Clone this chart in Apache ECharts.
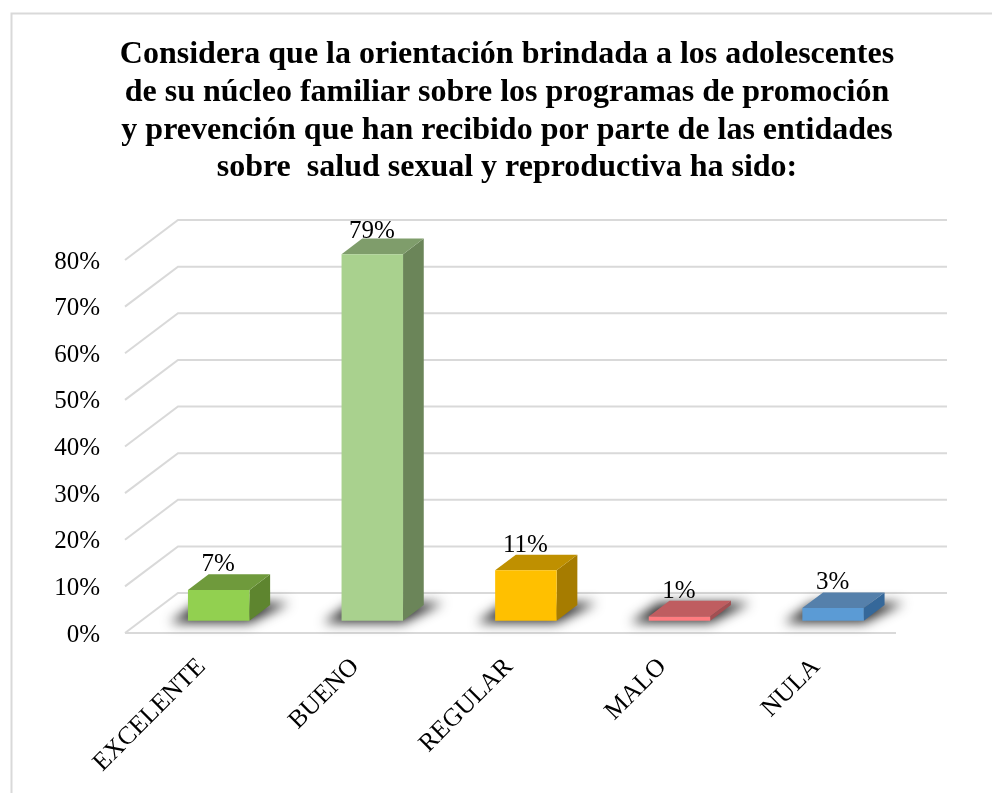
<!DOCTYPE html>
<html><head><meta charset="utf-8">
<style>html,body{margin:0;padding:0;background:#fff}#c{width:992px;height:793px}</style>
<script src="https://cdn.jsdelivr.net/npm/echarts@6/dist/echarts.min.js"></script>
</head><body><div id="c"></div>
<script>
const titleLines = [
  'Considera que la orientación brindada a los adolescentes',
  'de su núcleo familiar sobre los programas de promoción',
  'y prevención que han recibido por parte de las entidades',
  'sobre  salud sexual y reproductiva ha sido:'
];
const categories = ['EXCELENTE', 'BUENO', 'REGULAR', 'MALO', 'NULA'];
const values = [6.6, 78.6, 10.8, 0.9, 2.7];
const gridTicks = [0, 10, 20, 30, 40, 50, 60, 70, 80];
const frontColors = ['#92D050', '#A9D18E', '#FFC000', '#FF7C80', '#5B9BD5'];
const topColors = ['#6F9A3C', '#7F9D6B', '#BF9000', '#BF5D60', '#5580AB'];
const sideColors = ['#5E852F', '#6B8559', '#A67C00', '#A34F52', '#35689A'];

const FONT = '"Liberation Serif","Times New Roman",serif';
const GRID_COLOR = '#D9D9D9';
const chart = echarts.init(document.getElementById('c'), null, {renderer: 'canvas'});

function renderGrid(params, api) {
  const v = api.value(0);
  const cs = params.coordSys;
  const y = api.coord([0, v])[1];
  const x0 = cs.x, x1 = x0 + 53, x2 = x0 + cs.width + 54, yb = y - 40;
  const children = [{
    type: 'polyline',
    shape: {points: [[x0, y], [x1, yb], [x2, yb]]},
    style: {fill: null, stroke: GRID_COLOR, lineWidth: 2}
  }];
  if (v === 0) {
    children.push({
      type: 'line',
      shape: {x1: x0, y1: y, x2: x0 + cs.width + 3, y2: y},
      style: {stroke: GRID_COLOR, lineWidth: 2}
    });
  }
  return {type: 'group', children};
}

function renderBar(params, api) {
  const i = api.value(0), v = api.value(1);
  const top = api.coord([i, v]), base = api.coord([i, 0]);
  const w = 61.5, dx = 20.7, dy = 15.7;
  const cx = top[0] + 16.9, off = 12.3;
  const l = cx - w / 2, r = cx + w / 2;
  const t = top[1] - off, b = base[1] - off;
  const c = params.dataIndex;
  const far = 3000;
  const shadow = {
    type: 'polygon',
    shape: {points: [[l - 18 - far, b + 2], [r - far, b + 2], [r + 40 - far, b - 18], [l + 10 - far, b - 18]]},
    style: {fill: '#333', shadowBlur: 12, shadowOffsetX: far, shadowColor: 'rgba(45,45,45,1)'}
  };
  return {
    type: 'group',
    children: [
      shadow,
      {type: 'polygon',
       shape: {points: [[r, t], [r + dx, t - dy], [r + dx, b - dy], [r, b]]},
       style: {fill: sideColors[c]}},
      {type: 'polygon',
       shape: {points: [[l, t], [l + dx, t - dy], [r + dx, t - dy], [r, t]]},
       style: {fill: topColors[c]}},
      {type: 'rect',
       shape: {x: l, y: t, width: w, height: b - t},
       style: {fill: frontColors[c]}},
      {type: 'text',
       style: {x: cx - 0.5, y: t - 13 + v * 0.04, text: Math.round(v) + '%', fill: '#000',
                font: '25px ' + FONT, textAlign: 'center', textVerticalAlign: 'bottom'},
       z2: 10}
    ]
  };
}

chart.setOption({
  animation: false,
  backgroundColor: '#fff',
  title: {
    text: titleLines.join('\n'),
    left: 502, top: 31, textAlign: 'center',
    textStyle: {fontFamily: FONT, fontWeight: 'bold', fontSize: 32, lineHeight: 37.7, color: '#000'}
  },
  graphic: [
    {type: 'polyline', shape: {points: [[11.5, 793], [11.5, 13.5], [992, 13.5]]},
     style: {fill: null, stroke: GRID_COLOR, lineWidth: 2}}
  ],
  grid: {left: 125, right: 99, top: 260, bottom: 160, containLabel: false},
  xAxis: {
    type: 'category', data: categories,
    axisLine: {show: false}, axisTick: {show: false},
    axisLabel: {rotate: 45, interval: 0, margin: 30, color: '#000', fontFamily: FONT, fontSize: 25.5}
  },
  yAxis: {
    type: 'value', min: 0, max: 80, interval: 10,
    axisLine: {show: false}, axisTick: {show: false}, splitLine: {show: false},
    axisLabel: {
      formatter: '{a|{value}%}', margin: 25,
      rich: {a: {color: '#000', fontFamily: FONT, fontSize: 25, padding: [4, 0, 0, 0]}}
    }
  },
  series: [
    {type: 'custom', coordinateSystem: 'cartesian2d', renderItem: renderGrid, silent: true,
     data: gridTicks.map(t => [t]), encode: {y: 0}, z: 1},
    {type: 'custom', coordinateSystem: 'cartesian2d', renderItem: renderBar, silent: true,
     data: values.map((v, i) => [i, v]), encode: {x: 0, y: 1}, z: 3}
  ]
});
</script></body></html>
